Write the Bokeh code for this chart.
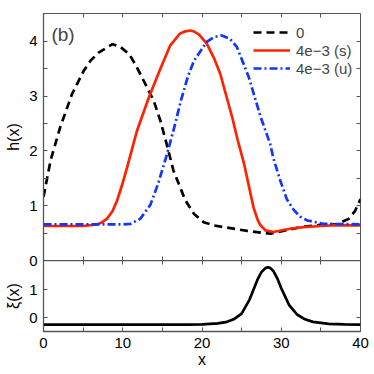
from bokeh.plotting import figure
from bokeh.layouts import column
from bokeh.models import Range1d, LinearAxis, FixedTicker, CustomJSTickFormatter, Label
from bokeh.embed import file_html
from bokeh.resources import INLINE

# ---------------- data ----------------
x_major = [0, 10, 20, 30, 40]
x_minor = [5, 15, 25, 35]
x_all = [0, 5, 10, 15, 20, 25, 30, 35, 40]
h_major = [0, 1, 2, 3, 4]
h_minor = [0.5, 1.5, 2.5, 3.5]
xi_major = [0, 1]

x_zero = [0, 0.9, 2.1, 3.6, 5.1, 6.0, 7.0, 8.7, 9.7, 10.8, 11.5, 12.2, 13.9, 14.75, 15.5,
          16.4, 17.9, 19.0, 20.2, 21.5, 23.2, 25.7, 28.6, 30.5, 32.8, 35.0, 37.0, 38.5,
          39.3, 40]
h_zero = [1.16, 1.83, 2.43, 3.04, 3.47, 3.66, 3.80, 3.95, 3.90, 3.77, 3.60, 3.41, 2.92, 2.55,
          2.15, 1.64, 1.10, 0.85, 0.70, 0.64, 0.60, 0.54, 0.49, 0.55, 0.62, 0.65, 0.66, 0.76,
          0.90, 1.12]

x_s = [0, 5.0, 6.8, 7.4, 8.0, 8.7, 9.3, 10.0, 10.55, 11.8, 13.3, 14.75, 16.0, 17.2, 17.8,
       18.5, 19.0, 19.6, 20.6, 21.5, 22.3, 23.8, 24.5, 25.3, 26.0, 26.5, 27.0, 27.3, 28.0,
       29.0, 31.1, 32.8, 35.0, 37.0, 40]
h_s = [0.63, 0.63, 0.66, 0.70, 0.76, 0.90, 1.10, 1.42, 1.70, 2.37, 2.98, 3.50, 3.93, 4.14,
       4.18, 4.20, 4.18, 4.13, 3.96, 3.70, 3.41, 2.62, 2.20, 1.77, 1.30, 0.97, 0.75, 0.66,
       0.55, 0.52, 0.58, 0.61, 0.63, 0.645, 0.64]

x_u = [0, 10.0, 11.0, 12.2, 13.5, 14.5, 15.5, 16.5, 17.3, 18.2, 19.0, 20.6, 21.5, 22.5,
       23.5, 24.4, 25.9, 27.4, 28.6, 29.0, 29.9, 30.7, 31.6, 32.4, 33.3, 35.3, 40]
h_u = [0.66, 0.66, 0.67, 0.76, 1.02, 1.42, 1.90, 2.43, 2.90, 3.35, 3.65, 3.99, 4.08, 4.11,
       4.05, 3.90, 3.35, 2.62, 2.13, 1.87, 1.45, 1.12, 0.92, 0.80, 0.73, 0.67, 0.66]

x_xi = [0, 18, 20, 22, 23, 24, 25, 26, 27, 27.5, 28, 28.3, 28.6, 29, 29.5, 30, 31, 32, 33,
        34, 36, 38, 40]
xi = [-0.24, -0.235, -0.225, -0.19, -0.15, -0.05, 0.15, 0.65, 1.35, 1.62, 1.76, 1.79, 1.77,
      1.66, 1.40, 1.05, 0.45, 0.12, -0.05, -0.14, -0.21, -0.23, -0.24]

labels = ["0", "4e\u22123 (s)", "4e\u22123 (u)"]

# ---------------- layout / style ----------------
FONT = "Liberation Sans"
AX = "#555555"
H_TOP = 4.51
XI_LO, XI_HI = -0.48, 2.03
OVERLAP = 12

blank = CustomJSTickFormatter(code="return ''")


def style(ax, tin=4, tout=0, labels_on=True):
    ax.major_tick_in = tin
    ax.major_tick_out = tout
    ax.minor_tick_in = tin
    ax.minor_tick_out = tout
    ax.major_tick_line_color = AX
    ax.minor_tick_line_color = AX
    ax.axis_line_color = AX
    ax.axis_line_width = 1.3
    ax.major_label_text_font = FONT
    ax.major_label_text_font_size = "15px"
    ax.major_label_text_color = "black"
    ax.axis_label_text_font = FONT
    ax.axis_label_text_font_size = "16px"
    ax.axis_label_text_font_style = "normal"
    ax.axis_label_text_color = "black"
    if not labels_on:
        ax.formatter = blank
        ax.axis_line_color = None


xr = Range1d(0, 40)

# ---------------- upper panel ----------------
p1 = figure(width=374, height=260 + OVERLAP, x_range=xr, y_range=Range1d(0, H_TOP),
            x_axis_location=None, output_backend="svg", toolbar_location=None,
            min_border_left=43, min_border_right=14, min_border_top=13,
            min_border_bottom=OVERLAP)
p1.grid.visible = False
p1.outline_line_color = AX

ya = p1.yaxis[0]
ya.ticker = FixedTicker(ticks=h_major, minor_ticks=h_minor)
style(ya)
ya.major_label_standoff = 6
ya.axis_label = "h(x)"
ya.axis_label_standoff = 4

b1 = LinearAxis(fixed_location=0, ticker=FixedTicker(ticks=x_all))
style(b1, labels_on=False)
p1.add_layout(b1, "below")
t1 = LinearAxis(fixed_location=H_TOP, ticker=FixedTicker(ticks=x_all))
style(t1, labels_on=False)
p1.add_layout(t1, "above")
r1 = LinearAxis(fixed_location=40, ticker=FixedTicker(ticks=h_major, minor_ticks=h_minor))
style(r1, labels_on=False)
p1.add_layout(r1, "right")

p1.line(x_zero, h_zero, line_color="black", line_width=2.7, line_dash="8 5", legend_label=labels[0])
p1.line(x_s, h_s, line_color="#ff2200", line_width=2.7, legend_label=labels[1])
p1.line(x_u, h_u, line_color="#1236ff", line_width=2.7, line_dash="8 3 2 3", legend_label=labels[2])

leg = p1.legend[0]
leg.location = (210, 183)
leg.margin = 0
leg.border_line_alpha = 0
leg.background_fill_alpha = 0
leg.glyph_width = 37
leg.glyph_height = 18
leg.label_height = 18
leg.spacing = 0
leg.padding = 0
leg.label_standoff = 6
leg.label_text_font = FONT
leg.label_text_font_size = "15px"

p1.add_layout(Label(x=1.0, y=4.12, text="(b)", text_baseline="middle", text_align="left",
                    text_font=FONT, text_font_size="19px"))

# ---------------- lower panel ----------------
p2 = figure(width=374, height=374 - 260, x_range=xr, y_range=Range1d(XI_LO, XI_HI),
            output_backend="svg", toolbar_location=None,
            min_border_left=43, min_border_right=14, min_border_top=0, min_border_bottom=43)
p2.margin = (-OVERLAP, 0, 0, 0)
p2.border_fill_color = None
p2.grid.visible = False
p2.outline_line_color = AX

xa = p2.xaxis[0]
xa.ticker = FixedTicker(ticks=x_major, minor_ticks=x_minor)
style(xa)
xa.major_label_standoff = 6
xa.axis_label = "x"
xa.axis_label_standoff = 0

ya2 = p2.yaxis[0]
ya2.ticker = FixedTicker(ticks=xi_major)
style(ya2)
ya2.major_label_standoff = 6
ya2.axis_label = "\u03be(x)"
ya2.axis_label_standoff = 4

t2 = LinearAxis(fixed_location=XI_HI, ticker=FixedTicker(ticks=x_all))
style(t2, labels_on=False)
t2.axis_line_color = AX
p2.add_layout(t2, "above")
r2 = LinearAxis(fixed_location=40, ticker=FixedTicker(ticks=xi_major))
style(r2, labels_on=False)
p2.add_layout(r2, "right")

p2.line(x_xi, xi, line_color="black", line_width=2.7)

layout = column(p1, p2, spacing=0)
open("out.html", "w").write(file_html(layout, INLINE))
